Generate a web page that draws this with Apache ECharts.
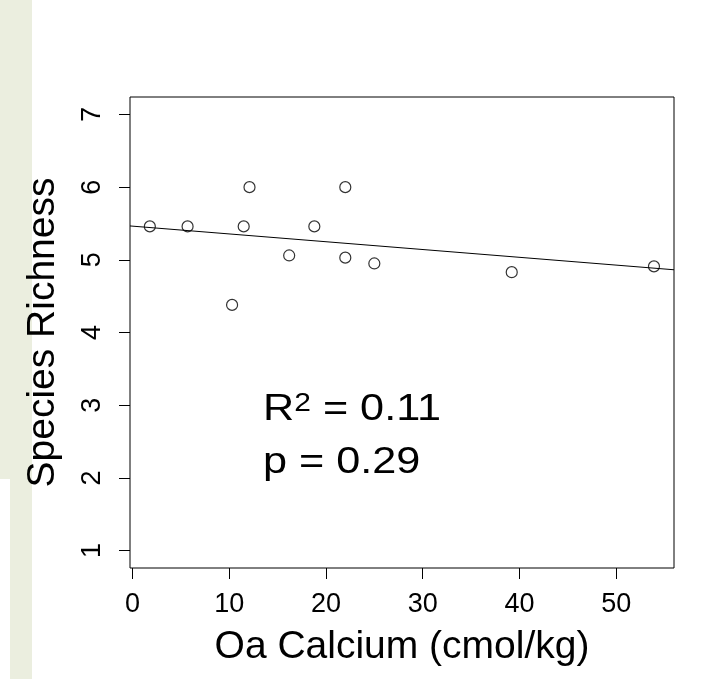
<!DOCTYPE html>
<html><head><meta charset="utf-8">
<script src="https://cdn.jsdelivr.net/npm/echarts@6/dist/echarts.min.js"></script>
<style>html,body{margin:0;padding:0;background:#fff}#c{width:714px;height:679px}</style>
</head><body><div id="c"></div>
<script>
// Data
const calcium  = [1.8, 5.7, 12.1, 11.5, 10.3, 16.2, 18.8, 22.0, 22.0, 25.0, 39.2, 53.9];
const richness = [5.46, 5.46, 6.0, 5.46, 4.38, 5.06, 5.46, 6.0, 5.03, 4.95, 4.83, 4.91];
// Fitted regression line (end points at the plot edges)
const fitX = [-0.25, 55.97];
const fitY = [5.466, 4.863];
// Axes
const xTicks = [0, 10, 20, 30, 40, 50];
const yTicks = [1, 2, 3, 4, 5, 6, 7];
const xRange = [-0.25, 55.97];
const yRange = [0.76, 7.24];
const xTitle = 'Oa Calcium (cmol/kg)';
const yTitle = 'Species Richness';
const r2Text = '0.11';
const pText = '0.29';

const FONT = 'Liberation Sans, Arial, sans-serif';
const chart = echarts.init(document.getElementById('c'), null, {renderer: 'canvas'});
chart.setOption({
  animation: false,
  backgroundColor: '#fff',
  grid: {left: 130, top: 97, right: 40, bottom: 111, show: true, borderColor: '#000', borderWidth: 1,
         backgroundColor: 'transparent', outerBoundsMode: 'none', containLabel: false},
  xAxis: {
    type: 'value', min: xRange[0], max: xRange[1],
    axisLine: {show: false, onZero: false},
    splitLine: {show: false},
    axisTick: {show: true, length: 11, customValues: xTicks, lineStyle: {color: '#000', width: 1}},
    axisLabel: {customValues: xTicks, fontSize: 27, color: '#000', fontFamily: FONT, margin: 23},
    name: xTitle, nameLocation: 'middle', nameGap: 60,
    nameTextStyle: {fontSize: 39, color: '#000', fontFamily: FONT}
  },
  yAxis: {
    type: 'value', min: yRange[0], max: yRange[1],
    axisLine: {show: false, onZero: false},
    splitLine: {show: false},
    axisTick: {show: true, length: 11, customValues: yTicks, lineStyle: {color: '#000', width: 1}},
    axisLabel: {customValues: yTicks, fontSize: 27, color: '#000', fontFamily: FONT, margin: 24, rotate: 90},
    name: yTitle, nameLocation: 'middle', nameGap: 67,
    nameTextStyle: {fontSize: 39, color: '#000', fontFamily: FONT}
  },
  series: [
    {type: 'scatter', data: calcium.map((x, i) => [x, richness[i]]), symbol: 'circle', symbolSize: 11,
     itemStyle: {color: 'rgba(0,0,0,0)', borderColor: '#000', borderWidth: 1.2}, z: 2, silent: true},
    {type: 'line', data: fitX.map((x, i) => [x, fitY[i]]), symbol: 'none', z: 3, silent: true,
     lineStyle: {color: '#000', width: 1}}
  ],
  graphic: [
    {type: 'rect', shape: {x: 0, y: 0, width: 32, height: 479}, style: {fill: '#ebeedf'}, z: -10},
    {type: 'rect', shape: {x: 10, y: 479, width: 22, height: 200}, style: {fill: '#ebeedf'}, z: -10},
    {type: 'text', x: 263, y: 410, scaleX: 1.2, z: 10,
     style: {text: '{n|R}{s|2}{n| = ' + r2Text + '}', verticalAlign: 'middle', fill: '#000',
       rich: {n: {fontSize: 36, fontFamily: FONT, fill: '#000'},
              s: {fontSize: 25, fontFamily: FONT, fill: '#000', verticalAlign: 'top'}}}},
    {type: 'text', x: 263, y: 463, scaleX: 1.2, z: 10,
     style: {text: 'p = ' + pText, verticalAlign: 'middle', fill: '#000', fontSize: 36, fontFamily: FONT}}
  ]
});
</script>
</body></html>
